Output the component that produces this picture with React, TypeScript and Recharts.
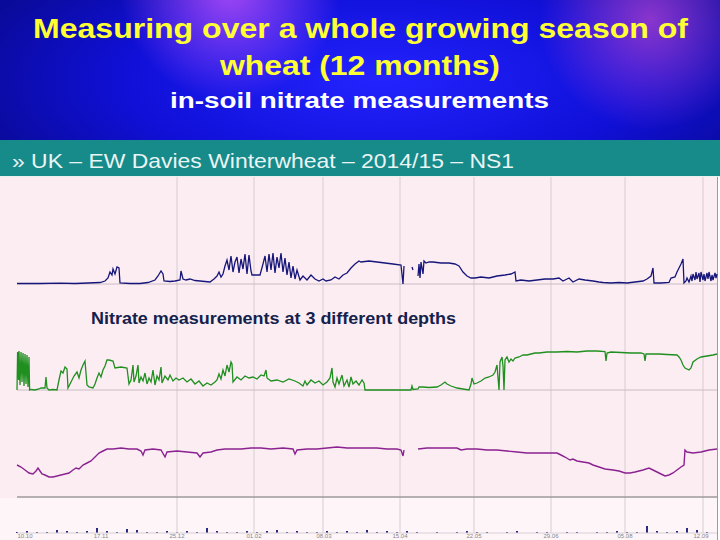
import React from 'react';
import { LineChart, Line, BarChart, Bar, XAxis, YAxis, ReferenceLine } from 'recharts';

// x = day of the season (0..350), y = reading in chart units
const gridDays = [80, 118.5, 153, 191.5, 228.5, 267, 304, 343];
const tickDays = [4, 42, 80, 118.5, 153.5, 191.5, 228.5, 267, 304, 342];
const tickLabels = ['10.10', '17.11', '25.12', '01.02', '08.03', '15.04', '22.05', '29.06', '05.08', '12.09'];

const shallow: [number, number | null][] = [
  [0, 0.5], [11.5, 0.5], [21.5, 0.8], [29, 0.5], [35.5, 1], [41.5, 1.5], [44, 3], [45.5, 6], [46.5, 12], [47.5, 9],
  [48, 15], [49, 10], [50, 17], [51, 16], [51.5, 1], [56.5, 0.5], [61.5, 0.5], [65.5, 1.5], [69, 4], [70.5, 8],
  [72, 13], [73, 10], [73.5, 3], [76.5, 2.5], [79, 3], [81.5, 4], [82, 13], [83, 5], [84.5, 4], [86.5, 5],
  [89, 3.5], [91.5, 3], [94, 2.5], [96.5, 2], [98.5, 5], [100, 8], [101, 12], [102, 7], [103, 10], [104, 18],
  [105, 24], [106, 14], [107, 28], [108, 12], [109, 22], [110, 27], [111, 11], [112, 25], [113, 15], [114, 30],
  [115, 10], [116, 29], [117, 13], [117.5, 9], [121.5, 9], [123, 20], [124, 28], [125, 12], [126, 30], [127, 14],
  [128, 31], [129, 11], [130, 27], [131, 16], [132, 31], [133, 12], [134, 26], [135, 9], [136, 22], [137, 6],
  [138, 18], [139, 5], [140, 14], [141.5, 4], [143, 8], [145, 4], [147, 9], [149, 5], [151, 3], [153, 5],
  [154.5, 3], [157, 4], [159, 7], [161, 5], [163, 9], [165, 11], [167, 16], [169, 20], [171, 23], [172, 22],
  [176, 23], [180, 22], [184, 21], [188, 20], [192, 19], [193, 0], [193.5, 18], [194, null], [197.5, 17], [198, 14],
  [198.5, null], [200.5, 8], [201, 20], [201.5, 6], [202, 22], [203, 10], [203.5, 23], [204.5, 21], [206, 22], [208, 22],
  [212, 21], [216, 21], [219, 20], [221, 18], [223, 12], [225, 8], [227, 6], [229, 6], [232, 7], [236, 6],
  [240, 8], [244, 9], [247, 10], [249, 12], [249.5, 3], [252, 4], [256, 3], [260, 4], [264, 5], [268, 5],
  [271, 6], [273, 3], [276, 6], [278, 2], [281, 5], [284, 4], [288, 3], [291, 2], [293, 1.5], [297, 1],
  [301, 1.5], [305, 1], [309, 2], [313, 3], [315, 5], [317, 8], [318, 16], [318.5, 1], [322, 1], [326, 1.5],
  [327, 6], [329, 7], [330, 12], [331, 16], [332, 20], [333, 25], [333.5, 1], [334.5, 3], [335, 6], [336, 2],
  [337, 8], [337.5, 3], [338, 10], [339, 4], [339.5, 12], [340, 5], [341, 11], [341.5, 2], [342, 12], [343, 4],
  [343.5, 10], [344, 3], [345, 11], [345.5, 5], [346, 12], [347, 3], [347.5, 9], [348, 4], [349, 11], [349.5, 6],
  [350, 10],
];

const middle: [number, number][] = [
  [0, 0], [0.3, 38], [0.8, 10], [1, 39], [1.5, 5], [2, 38], [2.5, 8], [3, 37], [3.5, 4], [4, 36],
  [4.5, 6], [5, 35], [5.5, 3], [6, 33], [6.3, 0], [7, 0.5], [9, 0], [11, 1], [12, 2], [14, 2],
  [14.5, 13], [15, 2], [16, 0], [18, 0.5], [20, 0], [21, 10], [22, 19], [23, 17], [24, 23], [25, 21],
  [25.5, 2], [27, 8], [28.5, 14], [30, 18], [31, 12], [32, 20], [33, 25], [34, 29], [35, 5], [36, 3],
  [38, 2], [39, 6], [40, 12], [41, 17], [42, 13], [43, 20], [44, 24], [45, 30], [46, 30], [48, 29],
  [49, 22], [52, 23], [55, 22], [56, 6], [57, 10], [58, 25], [58.5, 8], [59.5, 14], [60.5, 25], [61, 7],
  [62, 13], [63, 9], [64, 17], [65, 6], [66, 12], [67, 8], [68, 20], [69, 5], [70, 14], [71, 10],
  [72, 23], [72.5, 7], [74, 14], [75.5, 10], [76.5, 15], [78, 9], [79.5, 12], [81, 10], [83, 12], [85, 8],
  [87, 11], [89, 6], [91, 9], [93, 4], [95, 7], [97, 5], [99, 8], [100, 10], [101, 16], [102, 11],
  [103, 20], [104, 14], [105, 25], [106, 18], [107, 28], [107.5, 26], [108, 8], [110, 13], [112, 10], [114, 14],
  [116, 12], [118, 13], [120, 11], [122, 15], [123.5, 14], [124.5, 20], [125, 12], [127, 9], [130, 10], [133, 8],
  [136, 11], [139, 9], [141, 7], [143, 4], [144, 9], [145, 5], [147, 10], [149, 7], [151, 9], [153, 5],
  [155, 8], [156.5, 12], [157.5, 22], [158, 8], [159, 3], [160, 12], [161, 6], [162.5, 15], [163.5, 4], [165, 10],
  [166, 3], [167, 13], [168, 6], [169.5, 9], [171, 5], [172.5, 10], [173.5, 7], [174, 0], [185, 0], [197, 0],
  [197.5, 4], [198, 0.5], [200.5, 1], [201, 3], [203, 3], [206, 2.5], [210, 3], [212, 5], [214, 8], [215, 6],
  [217, 4], [220, 2], [223, 1], [226, 0], [227, 6], [227.5, 12], [228.5, 6], [230, 7], [232, 9], [234, 12],
  [236, 13], [238, 15], [239, 18], [240, 25], [241, 0], [241.5, 28], [242.5, 33], [243, 24], [243.5, 0], [244, 30],
  [245, 33], [246, 28], [247, 31], [248, 29], [249, 32], [251, 33], [253, 35], [255, 35], [257, 36], [259, 37],
  [261, 37], [265, 38], [270, 38], [275, 38.5], [280, 38], [285, 39], [290, 39], [294, 38.5], [294.5, 29], [295, 37],
  [297, 38], [302, 37.5], [307, 37], [312, 37], [313.5, 36], [314, 29], [314.5, 36], [317, 36], [321, 36], [325, 35.5],
  [330, 35], [331, 33], [332, 30], [333, 25], [334, 22], [336, 20], [337, 22], [338, 28], [340, 31], [342, 33],
  [345, 34], [348, 35], [350, 36],
];

const deep: [number, number | null][] = [
  [0, 32], [2, 30], [4, 27], [6, 24], [8, 23], [9.5, 26], [10.5, 29], [11.5, 26], [12.5, 23], [14, 22],
  [16, 20], [18, 20], [20, 21], [22, 22], [24, 23], [26, 24], [28, 27], [29.5, 29], [31, 28], [33, 32],
  [35, 34], [37, 36], [39, 40], [41, 44], [43, 46], [45, 48], [48, 48], [52, 49], [56, 48], [60, 48],
  [62, 46], [63, 42], [64, 47], [68, 48], [72, 47], [74, 40], [75, 45], [80, 46], [85, 45], [90, 44],
  [91.5, 40], [93, 44], [97, 45], [100, 47], [104, 48], [108, 48], [112, 48], [117, 49], [122, 49], [127, 48],
  [133, 49], [138, 48], [139, 43], [140, 47], [145, 48], [150, 48], [155, 49], [160, 50], [165, 49], [170, 49],
  [175, 49], [180, 49], [185, 48], [190, 48], [192, 47], [193, 41], [193.5, 47], [194, null], [197.5, 48], [198, null],
  [200.5, 48], [205, 49], [210, 49], [215, 49], [220, 49], [222, 47], [225, 48], [230, 48], [235, 47], [240, 47],
  [245, 46], [250, 45], [255, 44], [260, 44], [265, 44], [270, 44], [272, 42], [274, 40], [276.5, 37], [278, 38],
  [280, 36], [283, 35], [286, 34], [288, 32], [291, 30], [294, 28], [298, 27], [301, 26], [304, 24], [306.5, 24],
  [309, 25], [311, 26], [313, 27], [316, 29], [318, 27], [320, 25], [322, 23], [324, 21], [326, 22], [328, 24],
  [330, 27], [332, 30], [333.5, 32], [334, 47], [335, 45], [338, 44], [342, 45], [346, 47], [350, 48],
];

// rainfall, one bar every 5 days
const rain = [
  1, 2, 1, 1, 3, 2, 1, 2, 5, 2, 1, 4, 3, 1, 1, 2, 1, 2, 1, 5,
  2, 1, 1, 2, 1, 2, 3, 1, 2, 1, 1, 2, 1, 2, 1, 3, 1, 2, 1, 2,
  1, 0, 1, 0, 1, 2, 1, 1, 0, 1, 2, 0, 1, 1, 0, 1, 1, 0, 1, 1,
  2, 1, 1, 7, 2, 1, 2, 5, 3, 1,
];

const toRows = (pts: [number, number | null][]) => pts.map(([d, v]) => ({ d, v }));
const rainRows = rain.map((v, i) => ({ d: i * 5, v }));

const FONT = '"Liberation Sans", Arial, sans-serif';
const MARGIN = { top: 0, right: 3, left: 17, bottom: 0 };

function Band({ rows, color, height, base, baseWidth = 1, width = 1.3 }: any) {
  return (
    <LineChart width={720} height={height} data={rows} margin={MARGIN}>
      <XAxis type="number" dataKey="d" domain={[0, 350]} hide />
      <YAxis type="number" domain={[-1, height - 1]} hide />
      {gridDays.map((d) => (
        <ReferenceLine key={d} x={d} stroke="#d6cdd1" />
      ))}
      <ReferenceLine y={0} stroke={base} strokeWidth={baseWidth} />
      <Line
        dataKey="v"
        type="linear"
        stroke={color}
        strokeWidth={width}
        dot={false}
        connectNulls={false}
        isAnimationActive={false}
      />
    </LineChart>
  );
}

export default function App() {
  return (
    <div style={{ position: 'relative', width: 720, height: 540, overflow: 'hidden', fontFamily: FONT, background: '#fff' }}>
      <style>{'body{margin:0}'}</style>
      <div
        style={{
          position: 'absolute', left: 0, top: 0, width: 720, height: 140,
          background:
            'radial-gradient(circle at 230px -10px, rgba(210,90,255,0.75), rgba(210,90,255,0) 110px),' +
            'radial-gradient(circle at 650px 20px, rgba(190,70,210,0.7), rgba(190,70,210,0) 110px),' +
            'radial-gradient(ellipse 420px 160px at 380px 80px, #2323ff, #1010d8 60%, #0a0a9a 100%)',
        }}
      >
        <svg width={720} height={140} style={{ display: 'block' }}>
          <text x={33} y={38} textLength={655} lengthAdjust="spacingAndGlyphs" fontSize={28} fontWeight="bold" fill="#ffff33" fontFamily={FONT}>
            Measuring over a whole growing season of
          </text>
          <text x={220} y={75} textLength={280} lengthAdjust="spacingAndGlyphs" fontSize={28} fontWeight="bold" fill="#ffff33" fontFamily={FONT}>
            wheat (12 months)
          </text>
          <text x={170} y={108} textLength={379} lengthAdjust="spacingAndGlyphs" fontSize={22} fontWeight="bold" fill="#ffffff" fontFamily={FONT}>
            in-soil nitrate measurements
          </text>
        </svg>
      </div>
      <div style={{ position: 'absolute', left: 0, top: 140, width: 720, height: 36, background: '#178a8a' }}>
        <svg width={720} height={36} style={{ display: 'block' }}>
          <text x={12} y={28} textLength={502} lengthAdjust="spacingAndGlyphs" fontSize={21} fill="#eaf5f5" fontFamily={FONT}>
            » UK – EW Davies Winterwheat – 2014/15 – NS1
          </text>
        </svg>
      </div>
      <div style={{ position: 'absolute', left: 0, top: 176, width: 720, height: 1, background: '#e8f0f0' }} />
      <div style={{ position: 'absolute', left: 0, top: 177, width: 717, height: 321, background: '#fcedf3' }} />
      <div style={{ position: 'absolute', left: 0, top: 498, width: 717, height: 42, background: '#fdf5f8' }} />
      <div style={{ position: 'absolute', left: 717, top: 177, width: 1, height: 363, background: '#9c9c9c' }} />

      <div style={{ position: 'absolute', left: 0, top: 177 }}>
        <Band rows={toRows(shallow)} color="#16167a" height={108} base="#c9bcc3" />
      </div>
      <div style={{ position: 'absolute', left: 0, top: 285 }}>
        <Band rows={toRows(middle)} color="#1f8f1f" height={106} base="#c9bcc3" />
      </div>
      <div style={{ position: 'absolute', left: 0, top: 391 }}>
        <Band rows={toRows(deep)} color="#8a2290" height={107} base="#9e9a9c" baseWidth={1.6} width={1.4} />
      </div>
      <div style={{ position: 'absolute', left: 0, top: 498 }}>
        <BarChart width={720} height={42} data={rainRows} margin={MARGIN} barSize={2}>
          <XAxis
            type="number"
            dataKey="d"
            domain={[0, 350]}
            ticks={tickDays}
            tickFormatter={(d: number) => tickLabels[tickDays.indexOf(d)]}
            tickLine={false}
            tickSize={0}
            tickMargin={1}
            axisLine={{ stroke: '#d8d0d4' }}
            tick={{ fontSize: 6, fill: '#888', fontFamily: FONT }}
            height={7}
            interval={0}
          />
          <YAxis type="number" domain={[0, 35]} hide />
          {gridDays.map((d) => (
            <ReferenceLine key={d} x={d} stroke="#d6cdd1" />
          ))}
          <Bar dataKey="v" fill="#2a2a80" isAnimationActive={false} />
        </BarChart>
      </div>

      <svg width={720} height={30} style={{ position: 'absolute', left: 0, top: 300 }}>
        <text x={91} y={24} textLength={365} lengthAdjust="spacingAndGlyphs" fontSize={16} fontWeight="bold" fill="#13214d" fontFamily={FONT}>
          Nitrate measurements at 3 different depths
        </text>
      </svg>
    </div>
  );
}
